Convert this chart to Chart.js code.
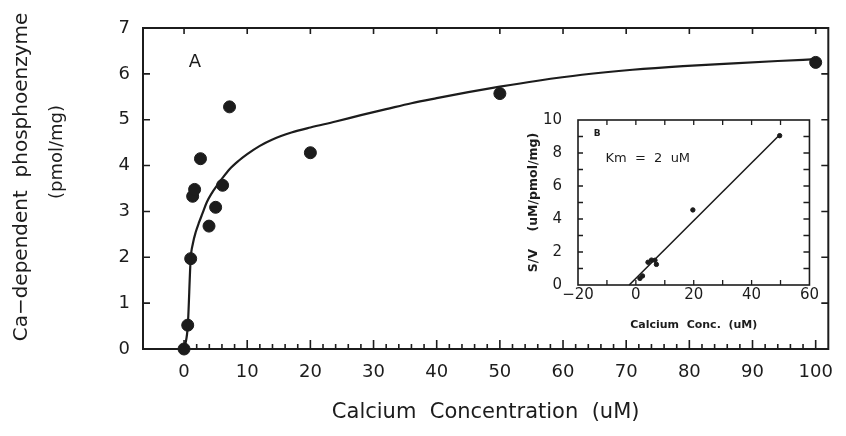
<!DOCTYPE html>
<html>
<head>
<meta charset="utf-8">
<script src="https://cdn.jsdelivr.net/npm/chart.js@4.4.1/dist/chart.umd.min.js"></script>
<style>
  body { margin: 0; background: #fff; }
  #wrap { position: relative; width: 846px; height: 436px; }
  #mainChart { position: absolute; left: 0; top: 0; }
  #insetChart { position: absolute; left: 520px; top: 95px; }
</style>
</head>
<body>
<div id="wrap">
  <canvas id="mainChart" width="846" height="436"></canvas>
  <canvas id="insetChart" width="300" height="245"></canvas>
</div>
<script>
// panel A - measured points
const caConc = [0, 0.58, 1.05, 1.36, 1.67, 2.6, 3.95, 5.0, 6.1, 7.2, 20, 50, 100];
const phosphoenzyme = [0, 0.52, 1.97, 3.33, 3.48, 4.15, 2.68, 3.09, 3.57, 5.28, 4.28, 5.57, 6.25];

// panel A - fitted curve
const fitConc = [0, 0.2, 0.6, 1.05, 1.4, 1.85, 2.4, 2.9, 3.6, 4.4, 5.2, 6.1, 7.2, 8.6, 10, 12, 14, 17, 20, 24, 28, 32, 36, 40, 45, 50, 56, 63, 71, 79, 87, 94, 100];
const fitLevel = [0, 0.1, 0.52, 1.97, 2.3, 2.55, 2.77, 2.95, 3.2, 3.4, 3.56, 3.73, 3.92, 4.1, 4.25, 4.43, 4.57, 4.72, 4.83, 4.96, 5.1, 5.23, 5.36, 5.47, 5.6, 5.72, 5.85, 5.98, 6.09, 6.17, 6.23, 6.28, 6.32];

// panel B - S/V plot
const lwConc = [1.4, 2.3, 4.2, 5.4, 6.6, 7.1, 19.7, 49.7];
const lwRatio = [0.4, 0.55, 1.38, 1.51, 1.5, 1.25, 4.55, 9.05];
const lwLineConc = [-2.3, 50];
const lwLineRatio = [0, 9.15];

// ticks
const mainXTicks = [0, 10, 20, 30, 40, 50, 60, 70, 80, 90, 100];
const mainYTicks = [0, 1, 2, 3, 4, 5, 6, 7];
const insetXTicks = [-20, 0, 20, 40, 60];
const insetYTicks = [0, 2, 4, 6, 8, 10];

const ink = '#1c1c1c';
const fam = "'DejaVu Sans', sans-serif";

function pts(xs, ys) {
  return xs.map((x, i) => ({ x: x, y: ys[i] }));
}

function range(a, b, step) {
  let out = [];
  for (let v = a; v <= b + 1e-9; v += step) out.push(v);
  return out;
}

// box around the plot area with inward tick marks
function makeFrame(marks, boxWidth, tickWidth) {
  return {
    id: 'frame',
    afterDatasetsDraw(chart) {
      const { ctx, chartArea: a, scales: { x, y } } = chart;
      ctx.save();
      ctx.strokeStyle = ink;
      ctx.lineWidth = boxWidth;
      ctx.strokeRect(a.left, a.top, a.right - a.left, a.bottom - a.top);
      ctx.lineWidth = tickWidth;
      ctx.beginPath();
      marks.forEach(m => {
        m.values.forEach(v => {
          if (m.side === 'bottom' || m.side === 'top') {
            const px = x.getPixelForValue(v);
            const y0 = m.side === 'bottom' ? a.bottom : a.top;
            const dir = m.side === 'bottom' ? -1 : 1;
            ctx.moveTo(px, y0);
            ctx.lineTo(px, y0 + dir * m.len);
          } else {
            const py = y.getPixelForValue(v);
            const x0 = m.side === 'left' ? a.left : a.right;
            const dir = m.side === 'left' ? 1 : -1;
            ctx.moveTo(x0, py);
            ctx.lineTo(x0 + dir * m.len, py);
          }
        });
      });
      ctx.stroke();
      ctx.restore();
    }
  };
}

// free text: either in data units (data: true) or canvas pixels
function makeNotes(items) {
  return {
    id: 'notes',
    afterDraw(chart) {
      const { ctx, scales: { x, y } } = chart;
      items.forEach(n => {
        const px = n.data ? x.getPixelForValue(n.x) : n.x;
        const py = n.data ? y.getPixelForValue(n.y) : n.y;
        ctx.save();
        ctx.fillStyle = ink;
        ctx.font = n.font;
        ctx.textAlign = n.align || 'center';
        ctx.textBaseline = 'middle';
        ctx.translate(px, py);
        if (n.rot) ctx.rotate(n.rot);
        ctx.fillText(n.text, 0, 0);
        ctx.restore();
      });
    }
  };
}

const minusFmt = v => v < 0 ? '\u2212' + Math.abs(v) : String(v);

new Chart(document.getElementById('mainChart'), {
  type: 'scatter',
  data: {
    datasets: [{
      label: 'fit',
      data: pts(fitConc, fitLevel),
      showLine: true,
      borderColor: ink,
      borderWidth: 2.2,
      pointRadius: 0,
      cubicInterpolationMode: 'monotone',
      clip: false
    }, {
      label: 'measured',
      data: pts(caConc, phosphoenzyme),
      backgroundColor: ink,
      borderColor: ink,
      pointRadius: 6,
      clip: false
    }]
  },
  options: {
    responsive: false,
    animation: false,
    events: [],
    layout: { padding: { top: 28, right: 8, left: 0, bottom: 0 }, autoPadding: false },
    plugins: { legend: { display: false }, tooltip: { enabled: false } },
    scales: {
      x: {
        type: 'linear', min: -6.5, max: 102,
        grid: { display: false, drawTicks: false },
        border: { display: false },
        afterBuildTicks: s => { s.ticks = mainXTicks.map(v => ({ value: v })); },
        afterFit: s => { s.height = 87; },
        ticks: { color: ink, font: { family: fam, size: 18 }, padding: 13, maxRotation: 0, autoSkip: false },
        title: { display: true, text: 'Calcium  Concentration  (uM)', color: ink,
                 font: { family: fam, size: 21 }, padding: { top: 0, bottom: 11 } }
      },
      y: {
        type: 'linear', min: 0, max: 7,
        grid: { display: false, drawTicks: false },
        border: { display: false },
        afterBuildTicks: s => { s.ticks = mainYTicks.map(v => ({ value: v })); },
        afterFit: s => { s.width = 143; },
        ticks: { color: ink, font: { family: fam, size: 18 }, padding: 13 }
      }
    }
  },
  plugins: [
    makeFrame([
      { side: 'bottom', values: range(0, 100, 2), len: 5 },
      { side: 'bottom', values: range(0, 100, 10), len: 9 },
      { side: 'top', values: range(0, 100, 10), len: 6 },
      { side: 'left', values: range(1, 6, 1), len: 7 },
      { side: 'right', values: range(1, 6, 1), len: 7 }
    ], 2, 1.6),
    makeNotes([
      { text: 'A', x: 1.7, y: 6.26, data: true, font: '18px ' + fam },
      { text: 'Ca\u2212dependent  phosphoenzyme', x: 22, y: 177, rot: -Math.PI / 2, font: '20px ' + fam },
      { text: '(pmol/mg)', x: 57, y: 152, rot: -Math.PI / 2, font: '18px ' + fam }
    ])
  ]
});

new Chart(document.getElementById('insetChart'), {
  type: 'scatter',
  data: {
    datasets: [{
      label: 'line',
      data: pts(lwLineConc, lwLineRatio),
      showLine: true,
      borderColor: ink,
      borderWidth: 1.6,
      pointRadius: 0,
      clip: false
    }, {
      label: 'S/V',
      data: pts(lwConc, lwRatio),
      backgroundColor: ink,
      borderColor: ink,
      pointRadius: 2.2,
      clip: false
    }]
  },
  options: {
    responsive: false,
    animation: false,
    events: [],
    layout: { padding: { top: 9, right: 10, left: 0, bottom: 0 }, autoPadding: false },
    plugins: { legend: { display: false }, tooltip: { enabled: false } },
    scales: {
      x: {
        type: 'linear', min: -20, max: 60,
        grid: { display: false, drawTicks: false },
        border: { display: false },
        afterBuildTicks: s => { s.ticks = insetXTicks.map(v => ({ value: v })); },
        afterFit: s => { s.height = 55; },
        ticks: { color: ink, font: { family: fam, size: 15 }, padding: 1, maxRotation: 0, autoSkip: false, callback: minusFmt },
        title: { display: true, text: 'Calcium  Conc.  (uM)', color: ink,
                 font: { family: fam, size: 11, weight: 'bold' }, padding: { top: 0, bottom: 8 } }
      },
      y: {
        type: 'linear', min: 0, max: 10,
        grid: { display: false, drawTicks: false },
        border: { display: false },
        afterBuildTicks: s => { s.ticks = insetYTicks.map(v => ({ value: v })); },
        afterFit: s => { s.width = 58; },
        ticks: { color: ink, font: { family: fam, size: 15 }, padding: 16 },
        title: { display: true, text: 'S/V    (uM/pmol/mg)', color: ink,
                 font: { family: fam, size: 12.5, weight: 'bold' }, padding: { top: 6, bottom: 0 } }
      }
    }
  },
  plugins: [
    makeFrame([
      { side: 'bottom', values: range(-10, 50, 10), len: 5 },
      { side: 'top', values: range(-10, 50, 10), len: 5 },
      { side: 'left', values: range(1, 9, 1), len: 5 },
      { side: 'right', values: range(1, 9, 1), len: 6 }
    ], 1.6, 1.3),
    makeNotes([
      { text: 'B', x: -13.4, y: 9.2, data: true, font: 'bold 9px ' + fam },
      { text: 'Km  =  2  uM', x: -10.5, y: 7.65, data: true, align: 'left', font: '13px ' + fam }
    ])
  ]
});
</script>
</body>
</html>
